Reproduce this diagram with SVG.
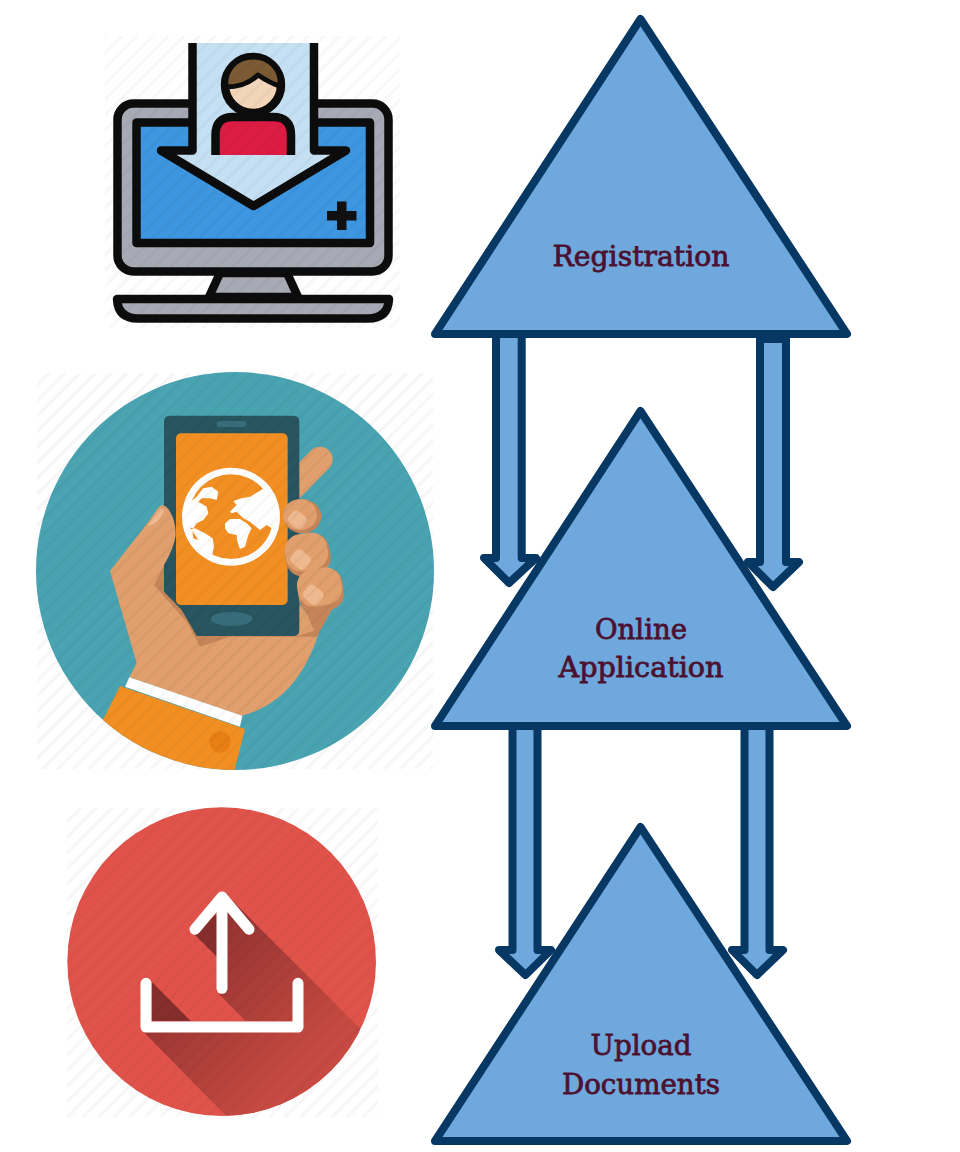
<svg xmlns="http://www.w3.org/2000/svg" width="960" height="1152" viewBox="0 0 960 1152">
<style>
.tri{fill:#6fa8dc;stroke:#073763;stroke-width:8;stroke-linejoin:round}
.conn{fill:#6fa8dc;stroke:#073763;stroke-width:8;stroke-linejoin:round}
.lbl{font-family:"DejaVu Serif","Liberation Serif",serif;font-size:28.5px;fill:#4c1130;stroke:#4c1130;stroke-width:.8}
.k{stroke:#0c0c0c;stroke-width:8.500;stroke-linejoin:round}
.gr{fill:#a7a9b4}
.skin{fill:#e09f6d}
.shade{fill:#c58558}
.nail{fill:#efb98f}
.or{fill:#f28f22}
</style>
<defs>
<pattern id="hatch" width="11" height="11" patternUnits="userSpaceOnUse" patternTransform="rotate(45)"><rect width="3" height="11" fill="#000"/></pattern>
<clipPath id="cPhone"><circle cx="615" cy="618" r="597"/></clipPath>
<clipPath id="cUp"><circle cx="485" cy="485" r="463"/></clipPath>
<linearGradient id="sh" gradientUnits="userSpaceOnUse" x1="330" y1="330" x2="760" y2="760"><stop offset="0" stop-color="#862d2d"/><stop offset="1" stop-color="#c64a41"/></linearGradient>
</defs>
<rect width="960" height="1152" fill="#fff"/>

<g id="icon-registration">
<rect x="117.500" y="103.500" width="271" height="168" rx="16" class="gr k"/>
<rect x="136.500" y="122.500" width="233.500" height="120.500" fill="#3d96df" class="k"/>
<path d="M192.500 43V150.500H161L253.500 206L346 150.500H314V43" fill="#c5e0f3" class="k"/>
<rect x="197" y="38" width="113" height="5" fill="#fff"/>
<circle cx="253" cy="85" r="28" fill="#f3d5b9" class="k"/>
<path d="M226 87C224 68 238 57 253 57C270 57 282 70 280 86C272 84 264 79 258 75C250 83 238 87 226 87Z" fill="#7b5a34" stroke="#0c0c0c" stroke-width="5" stroke-linejoin="round"/>
<path d="M215.500 155V135Q215.500 117 233 117H273Q291 117 291 135V155" fill="#dd1c44" class="k"/>
<path d="M337 201.500h9.500v9.500h10v9.500h-10v9.500h-9.500v-9.500h-10v-9.500h10z" fill="#111"/>
<path d="M220 273H287L298 297H209Z" class="gr k"/>
<path d="M117 299H389Q388 318.500 368 318.500H138Q118 318.500 117 299Z" class="gr k"/>
<rect x="105" y="36" width="295" height="292" fill="url(#hatch)" opacity=".03"/>
</g>

<g id="icon-application">
<rect x="37" y="373" width="396" height="396" fill="url(#hatch)" opacity=".035"/>
<g transform="translate(30 365) scale(.33333)">
<circle cx="615" cy="618" r="597" fill="#49a3b1"/>
<g clip-path="url(#cPhone)">
<path d="M240 618L350 478L392 424L470 600L808 720L870 790C840 900 770 1020 635 1052L298 937L320 895Z" class="skin"/>
<path d="M372 660L402 600L500 812H808L870 790L860 815H600L510 845L470 770Z" class="shade"/>
<path d="M870 283L790 365" fill="none" stroke="#e09f6d" stroke-width="76" stroke-linecap="round"/>
<path d="M402 170Q402 152 420 152H790Q808 152 808 170V795Q808 813 790 813H500L490 795L455 735L402 680Z" fill="#28555f"/>
<rect x="438" y="205" width="335" height="515" rx="15" class="or"/>
<rect x="560" y="168" width="90" height="18" rx="9" fill="#376d7a"/>
<ellipse cx="605" cy="762" rx="63" ry="21" fill="#376d7a"/>
<circle cx="603" cy="455" r="147" fill="#fff"/>
<circle cx="603" cy="455" r="127" class="or"/>
<path d="M470 420L500 395L520 370L545 365L565 380L560 405L540 400L515 400L505 410L530 425L535 445L520 465L500 475L490 490L462 485Z" fill="#fff"/>
<path d="M600 440L620 420L610 408L635 400L660 395L710 365L745 420L745 470L725 490L710 480L690 495L660 470L640 460L620 440L605 445Z" fill="#fff"/>
<path d="M585 475L600 462L630 462L650 475L665 490L655 510L645 545L630 552L622 530L620 510L595 505L585 490Z" fill="#fff"/>
<path d="M470 495L495 490L525 505L548 520L552 545L545 578L500 560Z" fill="#fff"/>
<path d="M487 498L505 525L490 520Z" class="or"/>
<path d="M385 428Q400 412 415 432Q438 465 437 510Q432 550 402 600L372 660L300 640L320 520Z" class="skin"/>
<path d="M352 482Q372 482 388 462Q402 445 402 432Q395 428 385 438Z" class="nail"/>
<path d="M810 720L940 675L860 815L830 745Z" class="shade"/>
<ellipse cx="817" cy="454" rx="57" ry="51" class="shade"/>
<ellipse cx="810" cy="449" rx="51" ry="46" class="skin"/>
<rect x="776" y="442" width="52" height="44" rx="14" class="nail" transform="rotate(40 802 464)"/>
<rect x="765" y="507" width="135" height="125" rx="50" class="shade" transform="rotate(-10 832 568)"/>
<rect x="765" y="505" width="128" height="112" rx="48" class="skin" transform="rotate(-10 830 560)"/>
<rect x="784" y="560" width="56" height="48" rx="14" class="nail" transform="rotate(40 812 584)"/>
<rect x="803" y="612" width="137" height="126" rx="48" class="shade" transform="rotate(-10 872 675)"/>
<rect x="803" y="610" width="132" height="112" rx="46" class="skin" transform="rotate(-10 868 666)"/>
<rect x="822" y="666" width="56" height="48" rx="14" class="nail" transform="rotate(40 850 690)"/>
<path d="M298 937L637 1052L630 1085L285 965Z" fill="#fff"/>
<path d="M270 963L645 1092L610 1230H100L220 1063Z" class="or"/>
<circle cx="570" cy="1131" r="32" fill="#e77f14"/>
</g>
</g>
<circle cx="235" cy="571" r="199" fill="url(#hatch)" opacity=".03"/>
</g>

<g id="icon-upload">
<rect x="67" y="808" width="311" height="309" fill="url(#hatch)" opacity=".035"/>
<g transform="translate(60 800) scale(.33333)">
<circle cx="485" cy="485" r="463" fill="#e0534a"/>
<g clip-path="url(#cUp)">
<path d="M510 295L960 745V960H510L245 690H700V663H557L480 585V300Z" fill="url(#sh)"/>
<path d="M275 545L392 663H275Z" fill="#862d2d"/>
<path d="M400 400L472 472V340Z" fill="#862d2d"/>
</g>
</g>
<circle cx="221.700" cy="961.700" r="154.300" fill="url(#hatch)" opacity=".03"/>
<g transform="translate(60 800) scale(.33333)" fill="none" stroke="#fff" stroke-width="33" stroke-linecap="round" stroke-linejoin="round">
<path d="M258 550V681H714V550"/>
<path d="M486 565V300"/>
<path d="M405 388L486 291L567 388"/>
</g>
</g>

<g id="connectors">
<path class="conn" d="M496 331V558H484L509 583L536 558H521.700V331Z"/>
<path class="conn" d="M760 339V562H748L773 587L799 562H786V339Z"/>
<path class="conn" d="M512.500 722V950H499L525.500 975L551 950H537.500V722Z"/>
<path class="conn" d="M744.500 722V950H732L757 975L783 950H769.500V722Z"/>
</g>

<g id="node-registration">
<polygon class="tri" points="640.500,19 847,334 435,334"/>
<text class="lbl" x="641" y="266" text-anchor="middle" textLength="177" lengthAdjust="spacingAndGlyphs">Registration</text>
</g>
<g id="node-online-application">
<polygon class="tri" points="640.500,411 847,726 435,726"/>
<text class="lbl" x="641" y="639" text-anchor="middle" textLength="92" lengthAdjust="spacingAndGlyphs">Online</text>
<text class="lbl" x="641" y="677" text-anchor="middle" textLength="165" lengthAdjust="spacingAndGlyphs">Application</text>
</g>
<g id="node-upload-documents">
<polygon class="tri" points="640.500,827 847,1141 435,1141"/>
<text class="lbl" x="641" y="1055" text-anchor="middle" textLength="101" lengthAdjust="spacingAndGlyphs">Upload</text>
<text class="lbl" x="641" y="1094" text-anchor="middle" textLength="158" lengthAdjust="spacingAndGlyphs">Documents</text>
</g>
</svg>
